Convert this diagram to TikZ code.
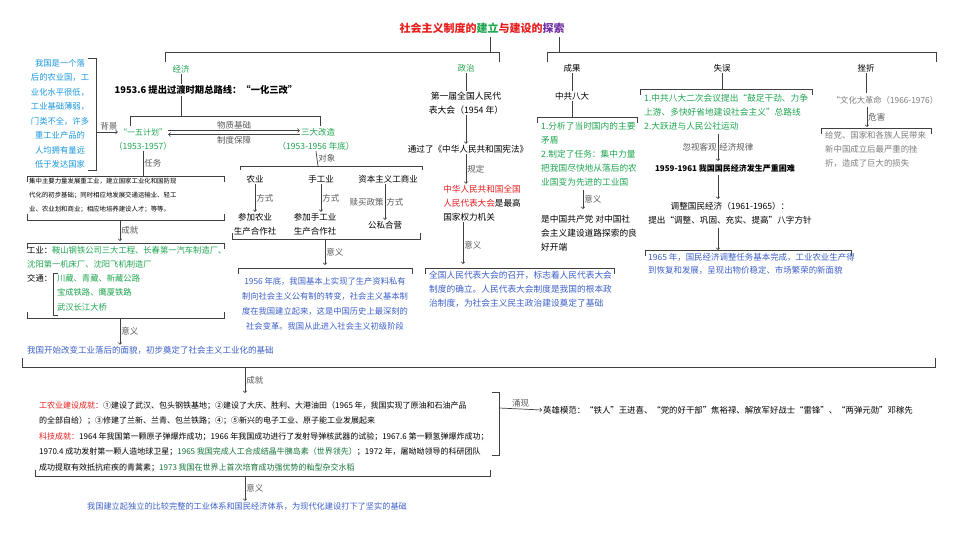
\documentclass[tikz,border=0pt]{standalone}
\usepackage{fontspec}
\setmainfont{Noto Sans CJK SC}
\usetikzlibrary{arrows,positioning}
\definecolor{jgreen}{RGB}{30,165,80}
\definecolor{jblue}{RGB}{60,95,200}
\definecolor{jcyan}{RGB}{25,150,220}
\definecolor{jred}{RGB}{230,30,30}
\definecolor{jpurple}{RGB}{115,50,165}
\definecolor{jgray}{RGB}{125,125,125}
\tikzset{
  every node/.style={inner sep=1pt, font=\fontsize{8.5}{14}\selectfont},
  small/.style={font=\fontsize{6.4}{14}\selectfont},
  lbl/.style={text=black!65},
  gr/.style={text=jgreen},
  bl/.style={text=jblue},
  cy/.style={text=jcyan},
  gy/.style={text=jgray},
  ln/.style={draw=black!75, line width=0.7pt},
  arr/.style={ln, -to}
}
\begin{document}
\begin{tikzpicture}[x=1pt,y=-1pt]
  \useasboundingbox (0,0) rectangle (960,540);
  % title and top brackets
  \node[font=\bfseries\fontsize{11}{13}\selectfont] (title) at (482,28)
    {\textcolor{jred}{社会主义制度的}\textcolor{jgreen}{建立}\textcolor{jred}{与建设的}\textcolor{jpurple}{探索}};
  \draw[ln] (490,37) -- (490,52);
  \draw[ln] (165,62) |- (499,52) -- (499,62);
  \draw[ln] (559,37) -- (559,52);
  \draw[ln] (547,62) |- (936,52) -- (936,62);

  % ---------- economy ----------
  \node[gr] (jingji) at (181,69) {经济};
  \node[font=\bfseries\fontsize{9.3}{14}\selectfont] (luxian) at (206,90) {1953.6 提出过渡时期总路线：“一化三改”};
  \draw[ln] (jingji) -- (jingji|-luxian.north);
  \draw[ln] (jingji|-luxian.south) -- (181,116);
  \draw[ln] (130,126) |- (320,116) -- (320,126);
  \node[cy, align=center, font=\fontsize{8.3}{14.5}\selectfont] (beijing) at (60,114)
    {我国是一个落\\后的农业国，工\\业化水平很低，\\工业基础薄弱，\\门类不全，许多\\重工业产品的\\人均拥有量远\\低于发达国家};
  \draw[ln] (88,58) -| (96,170) -- (88,170);
  \coordinate (bj) at (96,132);
  \node[gr, font=\fontsize{8}{14}\selectfont] (yiwu) at (143,132) {“一五计划”};
  \node[gr] (yiwuy) at (143,146) {（1953-1957）};
  \draw[arr] (bj) -- node[above,lbl,xshift=2pt]{背景} (yiwu.west);
  \node[gr] (sanda) at (318,132) {三大改造};
  \node[gr] (sanday) at (316,146) {（1953-1956 年底）};
  \draw[arr] ([yshift=1.5pt]yiwu.east) -- node[above,lbl]{物质基础} ([yshift=1.5pt]sanda.west);
  \draw[arr] ([yshift=-2.5pt]sanda.west) -- node[below,lbl]{制度保障} ([yshift=-2.5pt]yiwu.east);
  % task
  \node[small, align=left, anchor=north west] (renwu) at (28,177)
    {集中主要力量发展重工业，建立国家工业化和国防现\\代化的初步基础；同时相应地发展交通运输业、轻工\\业、农业划和商业；相应地培养建设人才；等等。};
  \draw[ln] (yiwuy.south) -- node[right,lbl]{任务} (143,176);
  \draw[ln] (27,182) |- (224,176) -- (224,182);
  \draw[ln] (27,214) |- (224,220) -- (224,214);
  \coordinate (rw) at (120,220);
  \coordinate (cj) at (120,241);
  \draw[arr] (rw) -- node[right,lbl]{成就} (cj);
  \draw[ln] (27,249) |- (224,243) -- (224,249);
  \node[align=left, anchor=north west, font=\fontsize{8.3}{14.2}\selectfont] (chengjiu) at (26,245)
    {工业：\textcolor{jgreen}{鞍山钢铁公司三大工程、长春第一汽车制造厂、}\\
     \textcolor{jgreen}{沈阳第一机床厂、沈阳飞机制造厂}\\
     交通：\hspace{0.6em}\textcolor{jgreen}{川藏、青藏、新藏公路}\\
     \hspace{3.6em}\textcolor{jgreen}{宝成铁路、鹰厦铁路}\\
     \hspace{3.6em}\textcolor{jgreen}{武汉长江大桥}};
  \draw[ln] (58,273) -| (53,315) -- (58,315);
  \draw[ln] (27,312) |- (224,318) -- (224,312);
  \coordinate (cj2) at (120,318);
  \node[bl, anchor=west] (yiyi1) at (26,350) {我国开始改变工业落后的面貌，初步奠定了社会主义工业化的基础};
  \draw[arr] (cj2) -- node[right,lbl]{意义} (yiyi1.north -| cj2);

  % three transformations
  \draw[ln] (sanday.south) -- node[right,lbl]{对象} (318,166);
  \draw[ln] (240,170) |- (422,166) -- (422,170);
  \node (nongye) at (255,179) {农业};
  \node (shougong) at (321,179) {手工业};
  \node (ziben) at (388,179) {资本主义工商业};
  \node[align=center] (nyhz) at (255,224) {参加农业\\生产合作社};
  \node[align=center] (sghz) at (315,224) {参加手工业\\生产合作社};
  \node (gongsi) at (385,225) {公私合营};
  \draw[arr] (nongye) -- node[right,lbl]{方式} (nongye|-nyhz.north);
  \draw[arr] (shougong) -- node[right,lbl]{方式} (shougong|-sghz.north);
  \draw[arr] (ziben.south -| gongsi) -- node[right,lbl]{方式} node[left,lbl]{赎买政策} (gongsi);
  \draw[ln] (232,233) |- (420,239) -- (420,233);
  \coordinate (sd) at (325,239);
  \draw[ln] (238,274) |- (412,268) -- (412,274);
  \node[bl, align=center, font=\fontsize{8.3}{15}\selectfont] (sdyy) at (325,304)
    {1956 年底，我国基本上实现了生产资料私有\\制向社会主义公有制的转变，社会主义基本制\\度在我国建立起来，这是中国历史上最深刻的\\社会变革。我国从此进入社会主义初级阶段};
  \draw[arr] (sd) -- node[right,lbl]{意义} (325,265);

  % ---------- politics ----------
  \node[gr] (zhengzhi) at (466,68) {政治};
  \node[align=center, font=\fontsize{8.8}{14}\selectfont] (renda) at (466,103) {第一届全国人民代\\表大会（1954 年）};
  \node[font=\fontsize{8.6}{14}\selectfont] (xianfa) at (468,149) {通过了《中华人民共和国宪法》};
  \node[align=left, font=\fontsize{8.6}{14}\selectfont] (jiguan) at (482,203)
    {\textcolor{jred}{中华人民共和国全国}\\\textcolor{jred}{人民代表大会}是最高\\国家权力机关};
  \draw[ln] (zhengzhi) -- (renda);
  \draw[arr] (renda) -- (renda|-xianfa.north);
  \draw[arr] (xianfa.south -| renda) -- node[right,lbl]{规定} (renda|-jiguan.north);
  \coordinate (zz) at (463,264);
  \draw[arr] (jiguan.south -| zz) -- node[right,lbl, pos=0.55]{意义} (zz);
  \draw[ln] (425,274) |- (614,268) -- (614,274);
  \node[bl, align=left, anchor=north west, font=\fontsize{8.7}{14}\selectfont] (zzyy) at (428,270)
    {全国人民代表大会的召开，标志着人民代表大会\\制度的确立。人民代表大会制度是我国的根本政\\治制度，为社会主义民主政治建设奠定了基础};

  % ---------- results ----------
  \node (chengguo) at (572,68) {成果};
  \node (bada) at (572,96) {中共八大};
  \draw[ln] (chengguo) -- (bada);
  \draw[ln] (bada) -- (572,117);
  \draw[ln] (537,123) |- (637,117) -- (637,123);
  \node[gr, align=left, anchor=north west, font=\fontsize{8.7}{14}\selectfont] (bdnr) at (540,121)
    {1.分析了当时国内的主要\\矛盾\\2.制定了任务：集中力量\\把我国尽快地从落后的农\\业国变为先进的工业国};
  \node[align=left, anchor=north west, font=\fontsize{8.7}{14}\selectfont] (bdyy) at (540,214)
    {是中国共产党\ 对中国社\\会主义建设道路探索的良\\好开端};
  \draw[arr] (583,190) -- node[right,lbl]{意义} (583,209);

  % ---------- mistakes ----------
  \node (shiwu) at (722,68) {失误};
  \draw[ln] (shiwu) -- (722,89);
  \draw[ln] (640,95) |- (812,89) -- (812,95);
  \node[gr, align=left, anchor=north west, font=\fontsize{8.7}{14}\selectfont] (swnr) at (643,93)
    {1.中共八大二次会议提出“鼓足干劲、力争\\上游、多快好省地建设社会主义”总路线\\2.大跃进与人民公社运动};
  \node[font=\bfseries\fontsize{8}{14}\selectfont] (kunnan) at (725,168) {1959-1961 我国国民经济发生严重困难};
  \node[align=center, font=\fontsize{8.6}{14}\selectfont] (tiaozheng) at (730,213) {调整国民经济（1961-1965）：\\提出“调整、巩固、充实、提高”八字方针};
  \draw[arr] (718,134) -- node[right,lbl]{经济规律} node[left,lbl]{忽视客观} (718,161);
  \draw[arr] (718,175) -- (718,199);
  \draw[ln] (645,256) |- (851,250) -- (851,256);
  \node[bl, align=left, anchor=north west, font=\fontsize{8.45}{13.5}\selectfont] (swjg) at (647,252)
    {1965 年，国民经济调整任务基本完成，工业农业生产得\\到恢复和发展，呈现出物价稳定、市场繁荣的新面貌};
  \draw[arr] (718,228) -- (718,250);

  % ---------- setbacks ----------
  \node (cuozhe) at (866,68) {挫折};
  \node[gy, font=\fontsize{8.3}{14}\selectfont] (wenge) at (885,100) {“文化大革命（1966-1976）};
  \draw[ln] (cuozhe) -- (866,93);
  \draw[ln] (821,134) |- (931,128) -- (931,134);
  \node[gy, align=left, anchor=north west, font=\fontsize{8.4}{14}\selectfont] (weihai) at (824,130)
    {给党、国家和各族人民带来\\新中国成立后最严重的挫\\折，造成了巨大的损失};
  \draw[arr] (867,107) -- node[right,lbl]{危害} (867,127);

  % ---------- overall achievements ----------
  \draw[ln] (22,358) |- (935,367) -- (935,358);
  \coordinate (zong) at (245,367);
  \node[align=left, anchor=north west, font=\fontsize{8}{15.6}\selectfont] (zcj) at (38,400)
    {\textcolor{jred}{工农业建设成就：}①建设了武汉、包头钢铁基地；②建设了大庆、胜利、大港油田（1965 年，我国实现了原油和石油产品\\
     的全部自给）；③修建了兰新、兰青、包兰铁路；④；⑤新兴的电子工业、原子能工业发展起来\\
     \textcolor{jred}{科技成就：}1964 年我国第一颗原子弹爆炸成功；1966 年我国成功进行了发射导弹核武器的试验；1967.6 第一颗氢弹爆炸成功；\\
     1970.4 成功发射第一颗人造地球卫星；\textcolor{jgreen!70!black}{1965 我国完成人工合成结晶牛胰岛素（世界领先）}；1972 年，屠呦呦领导的科研团队\\
     成功提取有效抵抗疟疾的青蒿素；\textcolor{jgreen!70!black}{1973 我国在世界上首次培育成功强优势的籼型杂交水稻}};
  \draw[arr] (zong) -- node[right,lbl]{成就} (245,393);
  \draw[ln] (492,392) -| (499,455) -- (492,455);
  \coordinate (yx) at (499,408);
  \node[anchor=west, font=\fontsize{8.4}{14}\selectfont] (yingxiong) at (542,410) {英雄模范：“铁人”王进喜、“党的好干部”焦裕禄、解放军好战士“雷锋”、“两弹元勋”邓稼先};
  \draw[arr] (yx) -- node[above,lbl]{涌现} (yingxiong.west);
  \draw[ln] (35,470) |- (490,476) -- (490,470);
  \coordinate (zyy) at (245,476);
  \node[bl, font=\fontsize{8.2}{14}\selectfont] (zongyy) at (247,506) {我国建立起独立的比较完整的工业体系和国民经济体系，为现代化建设打下了坚实的基础};
  \draw[arr] (zyy) -- node[right,lbl]{意义} (zongyy.north -| zyy);
\end{tikzpicture}
\end{document}
